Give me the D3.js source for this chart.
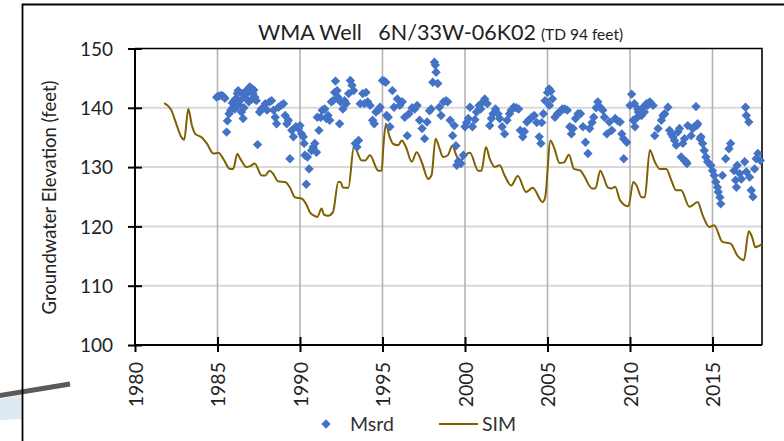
<!DOCTYPE html>
<html><head><meta charset="utf-8">
<script src="https://cdn.jsdelivr.net/npm/d3@7/dist/d3.min.js"></script>
<style>
html,body{margin:0;padding:0;background:#fff;}
svg{display:block;font-family:Lato,"Open Sans",sans-serif;}
</style></head>
<body><svg id="c" width="784" height="441"></svg>
<script>
const xTicks = [1980,1985,1990,1995,2000,2005,2010,2015];
const yTicks = [100,110,120,130,140,150];
const titleMain = "WMA Well   6N/33W-06K02";
const titleSub = "(TD 94 feet)";
const yLabel = "Groundwater Elevation (feet)";
const seriesNames = ["Msrd","SIM"];

const msrdDates = [
1984.95,1985.1,1985.25,1985.35,1985.45,1985.55,1985.6,1985.7,1985.8,1985.9,1985.95,1986.0,1986.05,1986.1,1986.2,1986.25,1986.3,1986.35,1986.45,1986.5,1986.55,1986.6,1986.65,1986.75,1986.85,1986.9,1986.95,1987.05,1987.1,1987.15,1987.2,1987.27,1987.35,1987.43,1987.55,1987.65,1987.8,1987.9,
1988.0,1988.15,1988.28,1988.4,1988.5,1988.58,1988.7,1988.85,1989.0,1989.1,1989.2,1989.3,1989.39,1989.5,1989.6,1989.75,1989.9,
1990.0,1990.1,1990.2,1990.25,1990.3,1990.38,1990.45,1990.55,1990.7,1990.8,1990.9,1991.0,1991.05,1991.15,1991.25,1991.35,1991.5,1991.6,1991.7,1991.8,1991.9,1992.0,1992.1,1992.15,1992.25,1992.3,1992.4,1992.45,1992.6,1992.7,1992.8,1992.95,1993.05,1993.15,1993.25,1993.35,1993.45,1993.55,1993.65,1993.8,1993.9,1994.0,1994.1,1994.25,1994.4,1994.5,1994.6,1994.75,1994.85,
1995.0,1995.1,1995.2,1995.25,1995.35,1995.45,1995.6,1995.7,1995.9,1996.05,1996.2,1996.35,1996.5,1996.6,1996.8,1996.95,1997.1,1997.25,1997.4,1997.55,1997.7,1997.85,1997.95,1998.05,1998.15,1998.2,1998.25,1998.35,1998.45,1998.55,1998.7,1998.85,1998.95,1999.1,1999.25,1999.35,1999.45,1999.5,1999.6,1999.75,1999.9,
2000.0,2000.1,2000.2,2000.3,2000.45,2000.6,2000.7,2000.85,2000.95,2001.1,2001.2,2001.35,2001.5,2001.6,2001.7,2001.85,2002.0,2002.1,2002.25,2002.4,2002.55,2002.7,2002.8,2002.95,2003.1,2003.25,2003.35,2003.5,2003.6,2003.75,2003.9,2004.05,2004.2,2004.35,2004.5,2004.6,2004.65,2004.75,2004.85,
2005.0,2005.1,2005.2,2005.3,2005.12,2005.45,2005.6,2005.75,2005.9,2006.05,2006.2,2006.35,2006.45,2006.55,2006.7,2006.85,2007.0,2007.15,2007.3,2007.45,2007.55,2007.7,2007.8,2007.95,2008.05,2008.2,2008.35,2008.45,2008.6,2008.75,2008.9,2009.1,2009.25,2009.4,2009.5,2009.6,2009.62,2009.8,
2010.0,2010.1,2010.2,2010.27,2010.3,2010.37,2010.47,2010.5,2010.7,2010.8,2010.87,2011.0,2011.07,2011.2,2011.4,2011.5,2011.7,2011.9,2012.0,2012.1,2012.3,2012.4,2012.5,2012.6,2012.7,2012.8,2012.9,2013.0,2013.1,2013.2,2013.3,2013.3,2013.4,2013.45,2013.5,2013.7,2013.8,2013.9,
2014.0,2014.05,2014.1,2014.25,2014.3,2014.4,2014.5,2014.6,2014.7,2014.9,2015.0,2015.1,2015.2,2015.3,2015.35,2015.45,2015.5,2015.6,2015.8,2016.0,2016.1,2016.3,2016.4,2016.45,2016.5,2016.65,2016.75,2016.95,2017.0,2017.05,2017.05,2017.2,2017.25,2017.35,2017.45,2017.55,2017.65,2017.75,2017.9];
const msrdLevels = [
141.8,142.0,142.1,141.9,141.6,135.9,137.8,139.0,139.6,140.8,140.1,141.2,139.8,141.5,142.4,142.9,140.5,141.2,139.3,142.4,138.2,140.0,141.8,142.9,142.6,141.0,143.5,143.3,141.5,142.4,143.0,141.8,141.2,133.8,139.3,139.8,140.1,140.7,
139.6,141.0,141.2,139.6,138.4,137.3,140.1,140.4,140.7,138.7,137.3,137.9,131.4,136.2,135.1,136.8,136.5,
137.0,135.6,135.1,134.0,132.0,127.1,131.7,129.7,132.8,133.4,134.0,132.5,138.4,136.2,138.4,139.6,139.8,138.2,138.7,137.9,141.0,141.2,142.6,144.5,142.9,141.8,137.3,141.0,139.8,141.2,140.7,142.4,144.6,143.8,142.9,134.0,133.4,134.5,140.7,142.4,140.7,142.6,141.0,140.4,137.9,137.3,139.3,139.6,140.1,
144.6,144.5,144.3,138.7,138.4,136.8,142.9,140.1,141.5,140.4,141.0,138.4,135.3,139.0,140.0,139.8,140.4,137.9,136.5,134.8,137.6,139.5,139.8,144.3,147.7,147.2,146.0,144.1,140.1,138.7,141.0,141.2,141.0,137.9,135.3,137.0,133.6,130.3,131.0,130.6,132.0,
136.8,137.5,138.2,140.1,136.8,138.0,139.3,140.4,139.8,141.0,141.5,140.7,137.0,138.2,139.0,139.8,139.0,138.2,136.8,135.6,137.9,139.0,139.6,140.1,140.0,139.8,136.2,135.1,136.0,137.6,138.0,138.4,138.7,137.5,135.1,134.0,137.5,139.0,141.2,
142.6,143.2,142.8,141.5,140.4,138.4,139.0,139.3,139.8,139.8,139.6,136.8,135.6,136.5,138.2,139.0,139.0,136.8,134.2,132.3,136.5,137.5,138.4,140.0,141.0,140.1,139.6,138.4,135.6,137.6,136.2,138.2,137.8,137.6,135.6,134.8,131.4,134.2,
140.4,142.3,137.9,140.7,136.8,138.2,139.8,139.3,138.7,140.1,139.3,140.7,140.4,141.0,140.4,135.3,136.5,137.9,138.7,139.0,140.1,136.2,135.6,135.1,134.5,133.7,135.9,136.5,131.7,134.0,134.8,131.1,130.9,130.6,137.0,135.3,136.5,136.8,
140.2,137.0,137.3,134.8,135.1,134.0,132.8,131.7,130.9,130.3,129.4,128.6,127.5,126.6,125.8,124.9,123.8,128.6,131.4,133.1,134.0,129.4,127.8,126.6,130.3,128.9,128.0,130.9,140.1,138.7,129.2,137.6,128.3,126.1,125.0,129.7,131.4,132.3,131.1];

const simDates = [1981.77,1982.2,1982.5,1982.8,1982.98,1983.23,1983.45,1983.65,1984.05,1984.35,1984.75,1985.05,1985.35,1985.75,1985.95,1986.2,1986.4,1986.76,1987.0,1987.26,1987.67,1987.9,1988.15,1988.37,1988.67,1989.1,1989.38,1989.7,1990.1,1990.4,1990.6,1990.85,1991.05,1991.31,1991.45,1991.71,1992.0,1992.32,1992.45,1992.62,1992.93,1993.27,1993.74,1993.94,1994.24,1994.74,1994.95,1995.05,1995.21,1995.41,1995.65,1995.96,1996.16,1996.42,1996.77,1997.07,1997.37,1997.77,1997.97,1998.22,1998.46,1998.66,1998.96,1999.23,1999.47,1999.7,1999.9,2000.3,2000.8,2001.0,2001.27,2001.5,2001.8,2002.1,2002.4,2002.8,2003.2,2003.7,2004.1,2004.71,2004.86,2005.18,2005.42,2005.73,2006.0,2006.3,2006.6,2007.0,2007.2,2007.7,2007.9,2008.2,2008.4,2008.65,2008.9,2009.1,2009.4,2009.9,2010.2,2010.4,2010.7,2010.9,2011.2,2011.5,2011.8,2012.2,2012.5,2012.8,2013.1,2013.6,2014.1,2014.4,2014.8,2015.1,2015.6,2016.1,2016.5,2016.9,2017.2,2017.4,2017.6,2018.0];
const simLevels = [140.8,139.6,137.3,135.1,134.6,139.8,137.0,135.6,135.0,134.0,132.3,132.4,131.4,129.7,129.7,132.2,131.3,130.0,130.2,130.6,128.6,128.6,129.4,128.9,127.6,127.5,126.6,124.9,124.7,123.6,122.4,121.8,121.6,123.0,122.0,121.8,122.4,127.5,127.5,126.5,126.5,133.5,131.1,131.1,132.0,129.4,129.4,133.4,137.3,135.3,133.9,133.7,134.5,133.4,130.9,132.5,130.9,128.0,128.6,134.8,133.1,131.7,132.0,133.6,132.0,130.9,131.7,132.4,129.4,129.4,133.4,131.4,130.0,130.3,128.6,126.9,128.5,125.8,126.5,124.1,124.9,134.5,133.1,130.7,130.8,132.1,129.7,129.4,128.6,126.4,126.4,129.4,128.3,126.6,126.4,126.7,124.4,123.4,127.5,126.9,124.9,124.9,132.9,130.9,129.7,129.7,127.8,126.1,126.1,123.3,124.1,121.9,119.9,120.2,117.4,117.1,115.1,114.3,119.2,118.2,116.5,117.0];

const svg = d3.select("#c");
const pLeft = 135, pRight = 762, pTop = 48.5, pBottom = 345;
const msrdColor = "#4472C4", simColor = "#7F6000";
const font = "Lato";

// slide decorations
svg.append("polygon").attr("points","0,399 22,395 22,419 0,420").attr("fill","#DFE9F4");
svg.append("line").attr("x1",-2).attr("y1",395.8).attr("x2",70).attr("y2",384)
  .attr("stroke","#5A5A5A").attr("stroke-width",5);
svg.append("path").attr("d","M22.5,441 V4.5 H784").attr("fill","none").attr("stroke","#000").attr("stroke-width",1.8);

const x = d3.scaleLinear().domain([1980,2018]).range([pLeft,pRight]);
const y = d3.scaleLinear().domain([100,150]).range([pBottom,pTop]);

// gridlines
svg.append("g").selectAll("line").data(yTicks.filter(v=>v>100&&v<150)).join("line")
  .attr("x1",pLeft).attr("x2",pRight).attr("y1",d=>y(d)).attr("y2",d=>y(d))
  .attr("stroke","#D9D9D9").attr("stroke-width",2);
svg.append("g").selectAll("line").data(xTicks.filter(v=>v>1980)).join("line")
  .attr("x1",d=>x(d)).attr("x2",d=>x(d)).attr("y1",pTop).attr("y2",pBottom)
  .attr("stroke","#B4B4B4").attr("stroke-width",1.6);

// plot frame top/right
svg.append("path").attr("d",`M${pLeft},${pTop} H${pRight} V${pBottom}`).attr("fill","none").attr("stroke","#000").attr("stroke-width",1.6);

// SIM line
const line = d3.line().x((d,i)=>x(simDates[i])).y(d=>y(d)).curve(d3.curveMonotoneX);
svg.append("path").datum(simLevels).attr("d",line).attr("fill","none")
  .attr("stroke",simColor).attr("stroke-width",2);

// Msrd diamonds
const diamond = d3.symbol().type(d3.symbolSquare).size(44);
svg.append("g").selectAll("path").data(msrdLevels).join("path")
  .attr("d",diamond)
  .attr("transform",(d,i)=>`translate(${x(msrdDates[i])},${y(d)}) rotate(45)`)
  .attr("fill",msrdColor);

// axes
const yAxis = d3.axisLeft(y).tickValues(yTicks).tickSize(7).tickFormat(d3.format("d"));
const gy = svg.append("g").attr("transform",`translate(${pLeft},0)`).call(yAxis);
gy.select(".domain").attr("stroke","#000").attr("stroke-width",2).attr("d",`M0,${pTop}V${pBottom}`);
gy.selectAll(".tick line").attr("x1",-7).attr("x2",7).attr("stroke","#000").attr("stroke-width",2);
gy.selectAll(".tick text").attr("x",-22).attr("dy","0.36em").attr("font-size",19).attr("fill","#222").attr("font-family",font);

const xAxis = d3.axisBottom(x).tickValues(xTicks).tickFormat(d3.format("d"));
const gx = svg.append("g").attr("transform",`translate(0,${pBottom})`).call(xAxis);
gx.select(".domain").attr("stroke","#000").attr("stroke-width",2).attr("d",`M${pLeft},0H${pRight}`);
gx.selectAll(".tick line").attr("y1",-8).attr("y2",7).attr("stroke","#000").attr("stroke-width",2);
gx.selectAll(".tick text").attr("transform","rotate(-90)").attr("x",-17).attr("y",0).attr("dy","0.36em")
  .attr("text-anchor","end").attr("font-size",19.5).attr("fill","#222").attr("font-family",font);
gx.selectAll(".tick").filter(d=>d===1980).select("line").attr("y1",0);

// title
const t = svg.append("text").attr("x",258).attr("y",39.5).attr("fill","#222").attr("font-family",font).style("white-space","pre");
t.append("tspan").attr("font-size",21.5).text(titleMain);
t.append("tspan").attr("font-size",15.5).attr("dx",5).text(titleSub);

// y label
svg.append("text").attr("transform",`translate(56,197.5) rotate(-90)`).attr("text-anchor","middle")
  .attr("font-size",18.5).attr("fill","#222").attr("font-family",font).text(yLabel);

// legend
svg.append("path").attr("d",diamond).attr("transform","translate(326,424) rotate(45)").attr("fill",msrdColor);
svg.append("text").attr("x",350).attr("y",431).attr("font-size",19.5).attr("fill","#333").attr("font-family",font).text(seriesNames[0]);
svg.append("line").attr("x1",439).attr("x2",478).attr("y1",424).attr("y2",424).attr("stroke",simColor).attr("stroke-width",2);
svg.append("text").attr("x",482).attr("y",431).attr("font-size",19.5).attr("fill","#333").attr("font-family",font).text(seriesNames[1]);
</script></body></html>
